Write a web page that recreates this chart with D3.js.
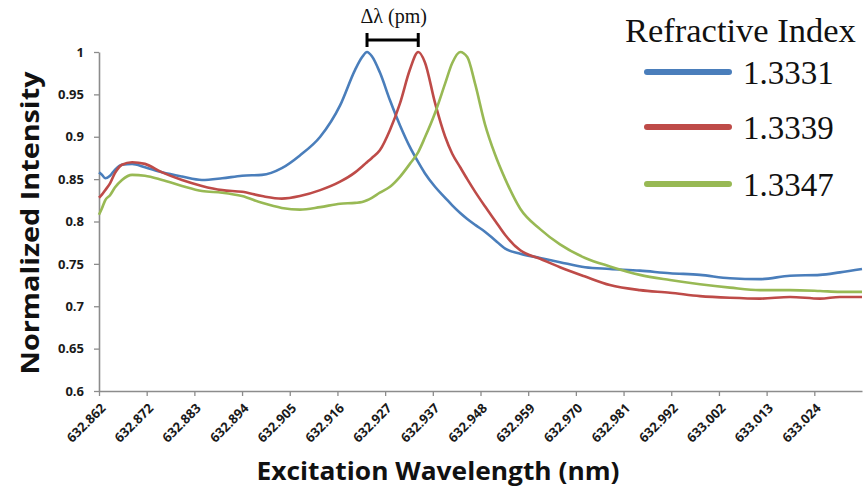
<!DOCTYPE html>
<html>
<head>
<meta charset="utf-8">
<script src="https://cdn.jsdelivr.net/npm/d3@7"></script>
<style>
  body { margin: 0; background: #fff; }
  svg { display: block; }
</style>
</head>
<body>
<div id="chart"></div>
<script>
// wavelength grid (nm), shared by all three spectra
const wavelength = [
  632.8620, 632.8627, 632.8634, 632.8645, 632.8656, 632.8672, 632.8695, 632.8724,
  632.8763, 632.8808, 632.8853, 632.8899, 632.8944, 632.8989, 632.9034, 632.9075,
  632.9121, 632.9166, 632.9200, 632.9216, 632.9227, 632.9238, 632.9256, 632.9279,
  632.9302, 632.9324, 632.9343, 632.9358, 632.9381, 632.9404, 632.9420, 632.9438,
  632.9454, 632.9472, 632.9494, 632.9517, 632.9540, 632.9574, 632.9619, 632.9664,
  632.9721, 632.9777, 632.9845, 632.9913, 632.9981, 633.0049, 633.0117, 633.0185,
  633.0253, 633.0298, 633.0348
];

// normalized intensity per refractive index
const n13331 = [
  0.858, 0.855, 0.851, 0.854, 0.861, 0.867, 0.868, 0.864,
  0.858, 0.853, 0.849, 0.851, 0.854, 0.855, 0.863, 0.878,
  0.900, 0.937, 0.979, 0.994, 1.000, 0.995, 0.976, 0.943,
  0.913, 0.888, 0.870, 0.857, 0.841, 0.828, 0.819, 0.810,
  0.803, 0.796, 0.788, 0.778, 0.768, 0.762, 0.757, 0.752,
  0.746, 0.744, 0.742, 0.739, 0.737, 0.733, 0.732, 0.736,
  0.737, 0.740, 0.744
];
const n13339 = [
  0.828, 0.832, 0.837, 0.845, 0.857, 0.867, 0.870, 0.868,
  0.858, 0.849, 0.842, 0.837, 0.835, 0.830, 0.827, 0.830,
  0.837, 0.847, 0.858, 0.865, 0.870, 0.875, 0.884, 0.908,
  0.940, 0.979, 1.000, 0.988, 0.940, 0.900, 0.880, 0.864,
  0.850, 0.835, 0.818, 0.801, 0.784, 0.766, 0.756, 0.746,
  0.735, 0.725, 0.719, 0.716, 0.712, 0.710, 0.709, 0.711,
  0.709, 0.711, 0.711
];
const n13347 = [
  0.808, 0.816, 0.825, 0.831, 0.840, 0.849, 0.855, 0.854,
  0.849, 0.842, 0.836, 0.834, 0.830, 0.822, 0.816, 0.814,
  0.817, 0.821, 0.822, 0.823, 0.825, 0.828, 0.834, 0.841,
  0.853, 0.868, 0.882, 0.899, 0.928, 0.963, 0.987, 1.000,
  0.994, 0.962, 0.915, 0.879, 0.850, 0.815, 0.791, 0.773,
  0.757, 0.747, 0.737, 0.731, 0.726, 0.722, 0.719, 0.719,
  0.718, 0.717, 0.717
];

const seriesNames = ["1.3331", "1.3339", "1.3347"];
const seriesColors = ["#4a7ebb", "#be4b48", "#98b954"];

// axis ticks
const xTickLabels = ["632.862", "632.872", "632.883", "632.894", "632.905", "632.916",
  "632.927", "632.937", "632.948", "632.959", "632.970", "632.981", "632.992",
  "633.002", "633.013", "633.024"];
const xTickStep = 0.0108;
const yTicks = [0.6, 0.65, 0.7, 0.75, 0.8, 0.85, 0.9, 0.95, 1];

// peak shift marker, between the first two peaks
const shiftFrom = 632.9227;
const shiftTo = 632.9343;

const width = 865;
const height = 490;
const margin = {top: 52, right: 3, bottom: 99, left: 99};

const svg = d3.select("#chart")
  .append("svg")
    .attr("width", width)
    .attr("height", height);

const x = d3.scaleLinear()
  .domain([xTickLabels[0] * 1, xTickLabels[0] * 1 + 16 * xTickStep])
  .range([margin.left, width - margin.right]);

const y = d3.scaleLinear()
  .domain([0.6, 1])
  .range([height - margin.bottom, margin.top]);

const xTicks = xTickLabels.map((d, i) => xTickLabels[0] * 1 + i * xTickStep);

// axes
const axisColor = "#8c8c8c";

const gy = svg.append("g")
  .attr("transform", `translate(${margin.left},0)`)
  .call(d3.axisLeft(y).tickValues(yTicks).tickSize(5).tickSizeOuter(0).tickFormat(d => String(+d.toFixed(2))));

gy.select(".domain").attr("stroke", axisColor).attr("stroke-width", 1.6);
gy.selectAll(".tick line").attr("stroke", axisColor).attr("stroke-width", 1.3);
gy.selectAll(".tick text")
  .attr("x", -15)
  .attr("fill", "#1a1a1a")
  .style("font", "bold 13px 'Open Sans', sans-serif");

const gx = svg.append("g")
  .attr("transform", `translate(0,${height - margin.bottom})`)
  .call(d3.axisBottom(x).tickValues(xTicks).tickSize(5).tickSizeOuter(0).tickFormat((d, i) => xTickLabels[i]));

gx.select(".domain").attr("stroke", axisColor).attr("stroke-width", 1.6);
gx.selectAll(".tick line").attr("stroke", axisColor).attr("stroke-width", 1.3);
gx.selectAll(".tick text")
  .attr("y", 0)
  .attr("dy", 0)
  .attr("text-anchor", "end")
  .attr("transform", "translate(7,18) rotate(-45)")
  .attr("fill", "#1a1a1a")
  .style("font", "bold 13px 'Open Sans', sans-serif");

// axis titles
svg.append("text")
  .attr("x", 438)
  .attr("y", 480)
  .attr("text-anchor", "middle")
  .attr("textLength", 363)
  .attr("lengthAdjust", "spacingAndGlyphs")
  .style("font", "bold 25px 'Open Sans', sans-serif")
  .attr("fill", "#111")
  .text("Excitation Wavelength (nm)");

svg.append("text")
  .attr("transform", "translate(39,223) rotate(-90)")
  .attr("text-anchor", "middle")
  .attr("textLength", 303)
  .attr("lengthAdjust", "spacingAndGlyphs")
  .style("font", "bold 25px 'Open Sans', sans-serif")
  .attr("fill", "#111")
  .text("Normalized Intensity");

// spectra
const line = d3.line()
  .x(d => x(d[0]))
  .y(d => y(d[1]))
  .curve(d3.curveMonotoneX);

[n13331, n13339, n13347].forEach((vals, i) => {
  svg.append("path")
    .datum(wavelength.map((w, j) => [w, vals[j]]))
    .attr("fill", "none")
    .attr("stroke", seriesColors[i])
    .attr("stroke-width", 2.6)
    .attr("stroke-linejoin", "round")
    .attr("d", line);
});

// delta lambda marker
const barY = 40;
const marker = svg.append("g").attr("stroke", "#000").attr("stroke-width", 3);
marker.append("line").attr("x1", x(shiftFrom)).attr("x2", x(shiftTo)).attr("y1", barY).attr("y2", barY);
marker.append("line").attr("x1", x(shiftFrom)).attr("x2", x(shiftFrom)).attr("y1", barY - 7).attr("y2", barY + 7);
marker.append("line").attr("x1", x(shiftTo)).attr("x2", x(shiftTo)).attr("y1", barY - 7).attr("y2", barY + 7);

svg.append("text")
  .attr("x", (x(shiftFrom) + x(shiftTo)) / 2 + 1)
  .attr("y", 23)
  .attr("text-anchor", "middle")
  .style("font", "20px 'Liberation Serif', serif")
  .attr("fill", "#111")
  .text("Δλ (pm)");

// legend
const legend = svg.append("g");
legend.append("text")
  .attr("x", 625)
  .attr("y", 42)
  .style("font", "34.5px 'Liberation Serif', serif")
  .attr("fill", "#111")
  .text("Refractive Index");

const rows = [72, 127, 184];
seriesNames.forEach((name, i) => {
  legend.append("line")
    .attr("x1", 647).attr("x2", 729)
    .attr("y1", rows[i]).attr("y2", rows[i])
    .attr("stroke", seriesColors[i])
    .attr("stroke-width", 6)
    .attr("stroke-linecap", "round");
  legend.append("text")
    .attr("x", 743)
    .attr("y", rows[i] + 12)
    .style("font", "33px 'Liberation Serif', serif")
    .attr("fill", "#111")
    .text(name);
});
</script>
</body>
</html>
